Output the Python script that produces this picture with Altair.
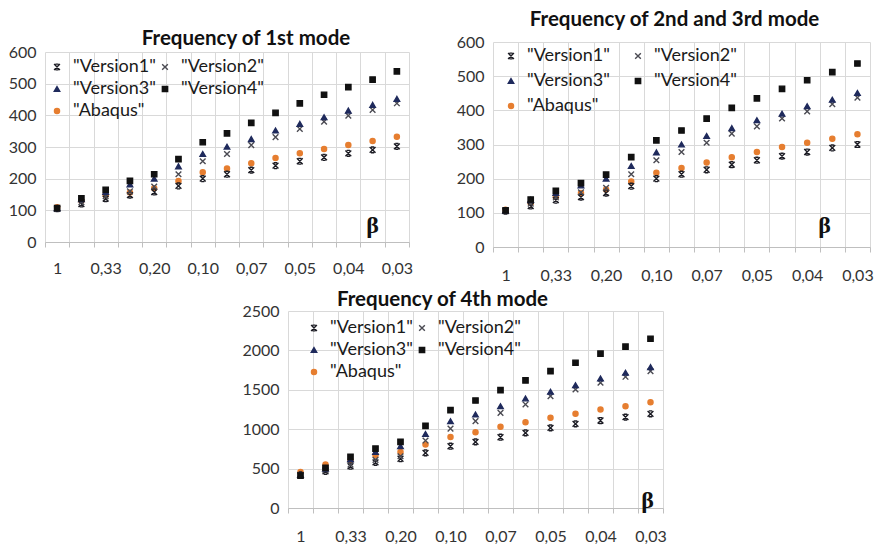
import altair as alt
import pandas as pd

# ---------------- data ----------------
beta_labels = ["1", "0,33", "0,20", "0,10", "0,07", "0,05", "0,04", "0,03"]
series = ['"Version1"', '"Version2"', '"Version3"', '"Version4"', '"Abaqus"']
n_cat = 15

# Frequency of 1st mode
m1_v1 = [105, 120, 137, 148, 158, 177, 200, 214, 227, 241, 255, 267, 280, 291, 302]
m1_v2 = [105, 126, 145, 160, 175, 214, 255, 278, 306, 331, 357, 380, 399, 417, 438]
m1_v3 = [107, 135, 158, 182, 200, 239, 278, 301, 325, 352, 373, 394, 415, 433, 452]
m1_v4 = [107, 138, 165, 193, 214, 262, 315, 343, 376, 408, 438, 465, 489, 513, 539]
m1_ab = [110, 130, 148, 156, 170, 193, 220, 232, 249, 265, 280, 294, 306, 319, 332]

# Frequency of 2nd and 3rd mode
m2_v1 = [105, 120, 137, 146, 158, 178, 200, 213, 226, 241, 254, 266, 278, 290, 300]
m2_v2 = [105, 127, 145, 160, 173, 213, 254, 278, 305, 332, 353, 376, 397, 418, 437]
m2_v3 = [107, 138, 158, 180, 200, 237, 277, 300, 325, 348, 371, 390, 412, 431, 451]
m2_v4 = [107, 139, 164, 187, 212, 263, 312, 341, 376, 407, 435, 463, 488, 512, 537]
m2_ab = [109, 129, 146, 158, 168, 192, 217, 231, 247, 263, 278, 293, 305, 317, 330]

# Frequency of 4th mode
m4_v1 = [420, 466, 530, 580, 625, 700, 784, 839, 898, 953, 1017, 1068, 1110, 1153, 1195]
m4_v2 = [415, 480, 550, 610, 657, 856, 1008, 1102, 1208, 1314, 1419, 1504, 1589, 1665, 1737]
m4_v3 = [420, 500, 620, 712, 784, 940, 1102, 1186, 1292, 1390, 1475, 1559, 1644, 1716, 1788]
m4_v4 = [410, 508, 648, 754, 839, 1042, 1242, 1364, 1496, 1619, 1737, 1843, 1958, 2047, 2148]
m4_ab = [458, 551, 602, 670, 712, 805, 902, 962, 1030, 1089, 1144, 1195, 1250, 1292, 1343]

colors = ["#1c1c24", "#4a4a52", "#1f2a5c", "#111111", "#e67e30"]
shapes = [
    "M-1,-1L1,1M-1,1L1,-1M-0.55,-1L0.55,-1M-0.55,1L0.55,1",
    "M-1,-1L1,1M-1,1L1,-1",
    "triangle-up",
    "square",
    "circle",
]
sizes = [34, 26, 40, 48, 55]

FONT = "Lato"
GRID = "#d9d9d9"
IND = dict(color="independent", stroke="independent", shape="independent", size="independent")


def spacer(w, h):
    return (
        alt.Chart(pd.DataFrame({"v": [0]}))
        .mark_point(opacity=0, size=0, strokeWidth=0)
        .properties(width=w, height=h)
    )


def panel(vals, title, ymax, ystep, w, h, title_offset, title_dx, leg, beta, xpad):
    rows = []
    for s, v in zip(series, vals):
        for i, y in enumerate(v):
            rows.append({"idx": i, "series": s, "value": y})
    df = pd.DataFrame(rows)
    bounds = [i - 0.5 for i in range(n_cat + 1)]
    arr = "[" + ",".join("'" + l + "'" for l in beta_labels) + "]"
    k = "round(datum.value + 0.5)"
    lab_expr = "(" + k + " % 2 == 0 && " + k + " < " + str(n_cat) + ") ? " + arr + "[" + k + " / 2] : ''"
    x = alt.X(
        "idx:Q",
        scale=alt.Scale(domain=[-0.5, n_cat - 0.5], nice=False, zero=False),
        axis=alt.Axis(
            values=bounds,
            grid=True,
            gridColor=GRID,
            ticks=True,
            tickSize=5,
            tickColor="#bfbfbf",
            domainColor="#bfbfbf",
            labelOffset=w / n_cat / 2,
            labelExpr=lab_expr,
            labelFlush=False,
            labelOverlap=False,
            labelBound=False,
            labelPadding=xpad,
            title="β",
            titleFont="Liberation Serif",
            titleFontSize=24,
            titleFontWeight="bold",
            titleColor="#111",
            titleX=w - beta[0],
            titleY=beta[1],
            titleAlign="center",
            titleBaseline="alphabetic",
        ),
    )
    y = alt.Y(
        "value:Q",
        scale=alt.Scale(domain=[0, ymax], nice=False),
        axis=alt.Axis(
            values=list(range(0, ymax + 1, ystep)),
            format="d",
            grid=True,
            gridColor=GRID,
            domain=False,
            ticks=False,
            labelPadding=9,
            title=None,
        ),
    )
    legend = alt.Legend(
        title=None,
        orient="none",
        direction="horizontal",
        legendX=leg[0],
        legendY=leg[1],
        columns=2,
        columnPadding=leg[2],
        rowPadding=leg[3],
        labelFont=FONT,
        labelFontSize=18,
        labelColor="#1a1a1a",
        symbolSize=45,
        symbolStrokeWidth=1.4,
        labelOffset=7,
    )
    return (
        alt.Chart(df)
        .mark_point(filled=True, strokeWidth=1.4, opacity=1)
        .encode(
            x=x,
            y=y,
            color=alt.Color("series:N", scale=alt.Scale(domain=series, range=colors), legend=legend),
            stroke=alt.Stroke("series:N", scale=alt.Scale(domain=series, range=colors), legend=legend),
            shape=alt.Shape("series:N", scale=alt.Scale(domain=series, range=shapes), legend=legend),
            size=alt.Size("series:N", scale=alt.Scale(domain=series, range=sizes), legend=None),
            order=alt.Order("series:N"),
        )
        .properties(
            width=w,
            height=h,
            title=alt.TitleParams(
                title,
                font=FONT,
                fontSize=20.5,
                fontWeight="bold",
                color="#111",
                anchor="middle",
                offset=title_offset,
                dx=title_dx,
            ),
        )
    )


p1 = panel([m1_v1, m1_v2, m1_v3, m1_v4, m1_ab], "Frequency of 1st mode", 600, 100,
           364, 190, -5, 19, (3, 6, 0, 4), (37, -10), 13)
p2 = panel([m2_v1, m2_v2, m2_v3, m2_v4, m2_ab], "Frequency of 2nd and 3rd mode", 600, 100,
           377, 205, 4, -7, (9, 5, 19, 7), (46, -15), 15)
p3 = panel([m4_v1, m4_v2, m4_v3, m4_v4, m4_ab], "Frequency of  4th mode", 2500, 500,
           375, 197, -7, -33, (17, 8, 0, 4), (16, -1), 15)

col1 = alt.vconcat(spacer(1, 22), p1, spacing=0).resolve_scale(**IND).resolve_legend(**IND)
col2 = alt.vconcat(spacer(1, 3), p2, spacing=0).resolve_scale(**IND).resolve_legend(**IND)
top = alt.hconcat(col1, col2, spacing=34).resolve_scale(**IND).resolve_legend(**IND)
bottom = alt.hconcat(spacer(196, 1), p3, spacing=0).resolve_scale(**IND).resolve_legend(**IND)

chart = (
    alt.vconcat(top, bottom, spacing=6)
    .resolve_scale(**IND)
    .resolve_legend(**IND)
    .properties(padding={"left": 0, "top": -2, "right": 0, "bottom": 0}, background="white")
    .configure_view(stroke=None)
    .configure_axis(labelFont=FONT, labelFontSize=16, labelColor="#333333")
)

chart.save("out.html", embed_options={"renderer": "svg", "actions": False})
